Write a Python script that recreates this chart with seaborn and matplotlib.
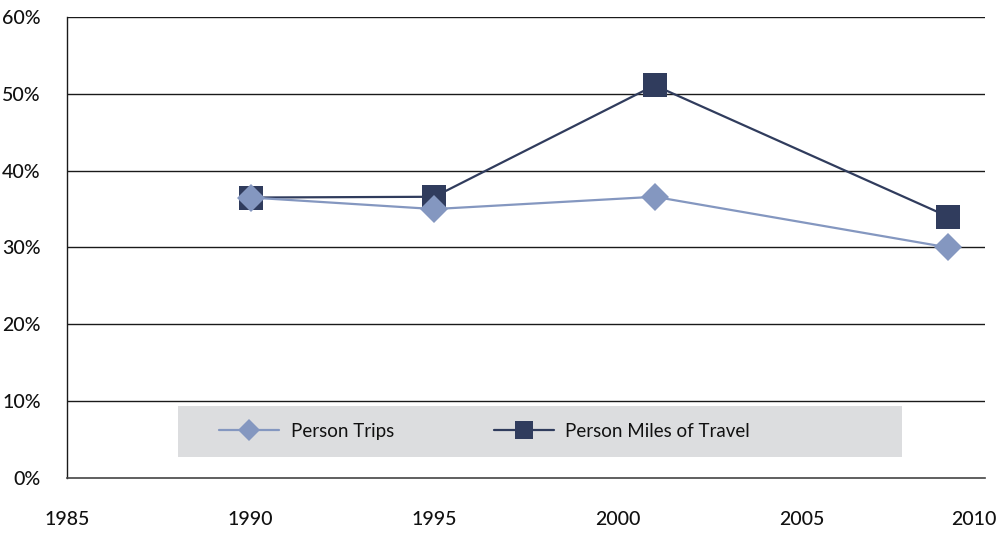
import pandas as pd
import numpy as np
import matplotlib
matplotlib.use("Agg")
import matplotlib.pyplot as plt
import matplotlib.transforms as mtransforms
from matplotlib.patches import Rectangle
from matplotlib.ticker import PercentFormatter
import seaborn as sns

# 数据
years = [1990, 1995, 2001, 2009]
person_trips = [36.5, 35.0, 36.6, 30.0]
person_miles = [36.5, 36.6, 51.1, 34.0]
series_names = ["Person Trips", "Person Miles of Travel"]

COLOR_LIGHT = "#8497C0"
COLOR_DARK = "#303C5D"

df = pd.DataFrame({
    "year": years * 2,
    "share": person_trips + person_miles,
    "series": [series_names[0]] * len(years) + [series_names[1]] * len(years),
})

sns.set_style("white")
plt.rcParams["font.family"] = ["Lato", "DejaVu Sans"]
plt.rcParams["font.size"] = 13
plt.rcParams["text.color"] = "#111111"
plt.rcParams["xtick.color"] = "#111111"
plt.rcParams["ytick.color"] = "#111111"

fig = plt.figure(figsize=(10.05, 5.34), dpi=100)
ax = fig.add_axes([0.0667, 0.1049, 0.9135, 0.8633])

# 先画深色线，再画浅色线（菱形压在方块上）
sns.lineplot(data=df[df["series"] == series_names[1]], x="year", y="share",
             color=COLOR_DARK, marker="s", markersize=17, markeredgewidth=0,
             linewidth=1.6, ax=ax, label=series_names[1], zorder=3)
sns.lineplot(data=df[df["series"] == series_names[0]], x="year", y="share",
             color=COLOR_LIGHT, marker="D", markersize=14.5, markeredgewidth=0,
             linewidth=1.6, ax=ax, label=series_names[0], zorder=4)

ax.set_xlim(1985, 2010)
ax.set_ylim(0, 60)
ax.set_xticks(np.arange(1985, 2011, 5))
ax.set_yticks(np.arange(0, 61, 10))
ax.yaxis.set_major_formatter(PercentFormatter(decimals=0))
ax.set_xlabel("")
ax.set_ylabel("")

for y in range(10, 61, 10):
    ax.axhline(y, color="#1a1a1a", linewidth=1.0, zorder=1)

for s in ["top", "right"]:
    ax.spines[s].set_visible(False)
ax.spines["left"].set_color("#1a1a1a")
ax.spines["left"].set_linewidth(1.0)
ax.spines["bottom"].set_color("#444444")
ax.spines["bottom"].set_linewidth(1.2)

ax.tick_params(axis="y", length=7, width=1, colors="#111111", pad=12, labelsize=14)
ax.tick_params(axis="x", length=0, pad=24, labelsize=14)
for lab in ax.get_xticklabels() + ax.get_yticklabels():
    lab.set_fontweight("medium")

# 最后一个年份标签稍往左移，避免出界
last = ax.get_xticklabels()[-1]
last.set_transform(last.get_transform() +
                   mtransforms.ScaledTranslation(-8 / 72, 0, fig.dpi_scale_trans))

# 图例背景灰框
ax.add_patch(Rectangle((0.121, 0.0456), 0.789, 0.111, transform=ax.transAxes,
                       facecolor="#DCDDDF", edgecolor="none", zorder=2))
handles, labels = ax.get_legend_handles_labels()
order = [labels.index(n) for n in series_names]
leg = ax.legend([handles[i] for i in order], [labels[i] for i in order],
                loc="center left", bbox_to_anchor=(0.166, 0.101),
                ncol=2, frameon=False, handlelength=3.2, handletextpad=0.6,
                columnspacing=5.35, fontsize=13.5, markerscale=0.75,
                borderpad=0, borderaxespad=0)
leg.set_zorder(5)

fig.savefig("out.png", dpi=100)
